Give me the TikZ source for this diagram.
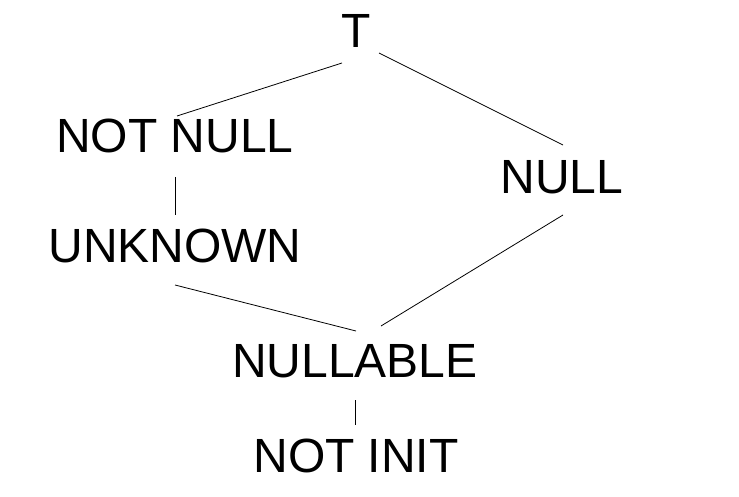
\documentclass[tikz,border=0pt]{standalone}
\usepackage{fontspec}
\setmainfont{Liberation Sans}
\begin{document}
\begin{tikzpicture}[x=1pt,y=-1pt,
  lbl/.style={inner sep=0pt,font=\fontsize{48}{56}\selectfont},
  edge/.style={line width=0.8pt}]
\useasboundingbox[fill=white] (0,0) rectangle (739,497);
\node[lbl] (T) at (356,31) {T};
\node[lbl] (NN) at (175,136) {NOT NULL};
\node[lbl] (NL) at (562,177) {NULL};
\node[lbl] (UK) at (175,246) {UNKNOWN};
\node[lbl] (NB) at (355,361) {NULLABLE};
\node[lbl] (NI) at (356,456) {NOT INIT};
\draw[edge] ([shift={(-14,32)}]T.center) -- ([shift={(2,-20)}]NN.center);
\draw[edge] ([shift={(23,22)}]T.center) -- ([shift={(1,-32)}]NL.center);
\draw[edge] ([shift={(0,41)}]NN.center) -- ([shift={(0,-31)}]UK.center);
\draw[edge] ([shift={(0,39)}]UK.center) -- ([shift={(1,-30)}]NB.center);
\draw[edge] ([shift={(1,38)}]NL.center) -- ([shift={(26,-35)}]NB.center);
\draw[edge] ([shift={(0,39)}]NB.center) -- ([shift={(-1,-31)}]NI.center);
\end{tikzpicture}
\end{document}
